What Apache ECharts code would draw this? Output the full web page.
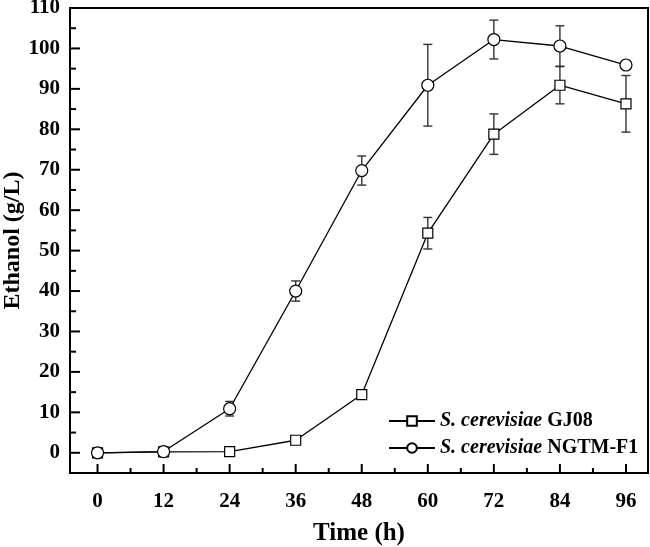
<!DOCTYPE html>
<html><head><meta charset="utf-8">
<script src="https://cdn.jsdelivr.net/npm/echarts@6/dist/echarts.min.js"></script>
<style>html,body{margin:0;padding:0;background:#fff}#c{width:650px;height:547px}</style>
</head><body><div id="c"></div>
<script>
const times = [0, 12, 24, 36, 48, 60, 72, 84, 96];
const gj08 = [0, 0.2, 0.3, 3.1, 14.4, 54.3, 78.8, 90.9, 86.3];
const gj08Err = [0, 0.3, 0.5, 0.4, 1.0, 3.9, 5.0, 4.6, 7.0];
const ngtm = [0, 0.3, 10.9, 40.0, 69.8, 90.9, 102.2, 100.6, 95.9];
const ngtmErr = [0, 0.4, 1.8, 2.5, 3.6, 10.1, 4.8, 5.0, 0.6];
const xTicks = [0, 12, 24, 36, 48, 60, 72, 84, 96];
const xMinor = [6, 18, 30, 42, 54, 66, 78, 90];
const yTicks = [0, 10, 20, 30, 40, 50, 60, 70, 80, 90, 100, 110];
const yMinor = [5, 15, 25, 35, 45, 55, 65, 75, 85, 95, 105];
const names = ['S. cerevisiae GJ08', 'S. cerevisiae NGTM-F1'];
const X_MIN = -5, X_MAX = 100, Y_MIN = -5, Y_MAX = 110;

const FONT = '"Liberation Serif","Times New Roman",serif';
const pts = (vals) => times.map((t, i) => [t, vals[i]]);
const errData = (vals, errs) => times.map((t, i) => [t, vals[i] - errs[i], vals[i] + errs[i]]);

function errRender(params, api) {
  const x = api.value(0);
  const lo = api.coord([x, api.value(1)]);
  const hi = api.coord([x, api.value(2)]);
  const hw = 4.5;
  const st = { stroke: '#333', lineWidth: 1.4 };
  return { type: 'group', children: [
    { type: 'line', shape: { x1: lo[0], y1: lo[1], x2: hi[0], y2: hi[1] }, style: st },
    { type: 'line', shape: { x1: lo[0] - hw, y1: lo[1], x2: lo[0] + hw, y2: lo[1] }, style: st },
    { type: 'line', shape: { x1: hi[0] - hw, y1: hi[1], x2: hi[0] + hw, y2: hi[1] }, style: st }
  ]};
}
function makeTickRender(axisFlag, len) {
  return function (params, api) {
    const v = api.value(0);
    const st = { stroke: '#000', lineWidth: 2 };
    if (axisFlag === 0) {
      const p = api.coord([v, Y_MIN]);
      return { type: 'line', shape: { x1: p[0], y1: p[1], x2: p[0], y2: p[1] - len }, style: st };
    }
    const p = api.coord([X_MIN, v]);
    return { type: 'line', shape: { x1: p[0], y1: p[1], x2: p[0] + len, y2: p[1] }, style: st };
  };
}
const tickSeries = (vals, flag, len) => ({
  type: 'custom', renderItem: makeTickRender(flag, len), data: vals.map(v => [v, 0]),
  z: 5, silent: true, clip: false, encode: { x: 0, y: 1 }
});

const chart = echarts.init(document.getElementById('c'), null, { renderer: 'canvas' });
chart.setOption({
  animation: false,
  backgroundColor: '#fff',
  grid: { left: 70, top: 8, right: 2, bottom: 74, show: true, borderColor: '#000', borderWidth: 2,
          containLabel: false, outerBoundsMode: 'none' },
  xAxis: { type: 'value', min: X_MIN, max: X_MAX,
      axisLine: { show: true, onZero: false, lineStyle: { color: '#000', width: 2 } },
      axisTick: { show: false },
      axisLabel: { show: true, customValues: xTicks, color: '#000', fontFamily: FONT, fontWeight: 'bold', fontSize: 21, margin: 18 },
      splitLine: { show: false },
      name: 'Time (h)', nameLocation: 'middle', nameGap: 48, nameMoveOverlap: false,
      nameTextStyle: { color: '#000', fontFamily: FONT, fontWeight: 'bold', fontSize: 25 } },
  yAxis: { type: 'value', min: Y_MIN, max: Y_MAX,
      axisLine: { show: true, onZero: false, lineStyle: { color: '#000', width: 2 } },
      axisTick: { show: false },
      axisLabel: { show: true, customValues: yTicks, color: '#000', fontFamily: FONT, fontWeight: 'bold', fontSize: 21, margin: 10 },
      splitLine: { show: false },
      name: 'Ethanol (g/L)', nameLocation: 'middle', nameGap: 45, nameMoveOverlap: false,
      nameTextStyle: { color: '#000', fontFamily: FONT, fontWeight: 'bold', fontSize: 24 } },
  legend: {
    orient: 'vertical', left: 383, top: 405, itemWidth: 46, itemHeight: 12, itemGap: 5,
    data: names,
    textStyle: { color: '#000', fontFamily: FONT, fontSize: 20, lineHeight: 22,
      rich: { it: { fontStyle: 'italic', fontWeight: 'bold', fontFamily: FONT, fontSize: 20 },
              b: { fontWeight: 'bold', fontFamily: FONT, fontSize: 20 } } },
    formatter: (n) => { const p = n.split(' '); return '{it|' + p[0] + ' ' + p[1] + '} {b|' + p[2] + '}'; }
  },
  series: [
    tickSeries(xTicks, 0, 9),
    tickSeries(xMinor, 0, 5),
    tickSeries(yTicks, 1, 10),
    tickSeries(yMinor, 1, 6),
    { type: 'custom', name: 'errA', renderItem: errRender, data: errData(gj08, gj08Err), z: 1, encode: { x: 0, y: [1, 2] }, silent: true },
    { type: 'custom', name: 'errB', renderItem: errRender, data: errData(ngtm, ngtmErr), z: 1, encode: { x: 0, y: [1, 2] }, silent: true },
    { type: 'line', name: names[0], data: pts(gj08), symbol: 'rect', symbolSize: 10, showAllSymbol: true, z: 3,
      lineStyle: { color: '#000', width: 1.3 }, itemStyle: { color: '#fff', borderColor: '#000', borderWidth: 1.2 } },
    { type: 'line', name: names[1], data: pts(ngtm), symbol: 'circle', symbolSize: 12, showAllSymbol: true, z: 4,
      lineStyle: { color: '#000', width: 1.3 }, itemStyle: { color: '#fff', borderColor: '#000', borderWidth: 1.2 } }
  ]
});
</script></body></html>
